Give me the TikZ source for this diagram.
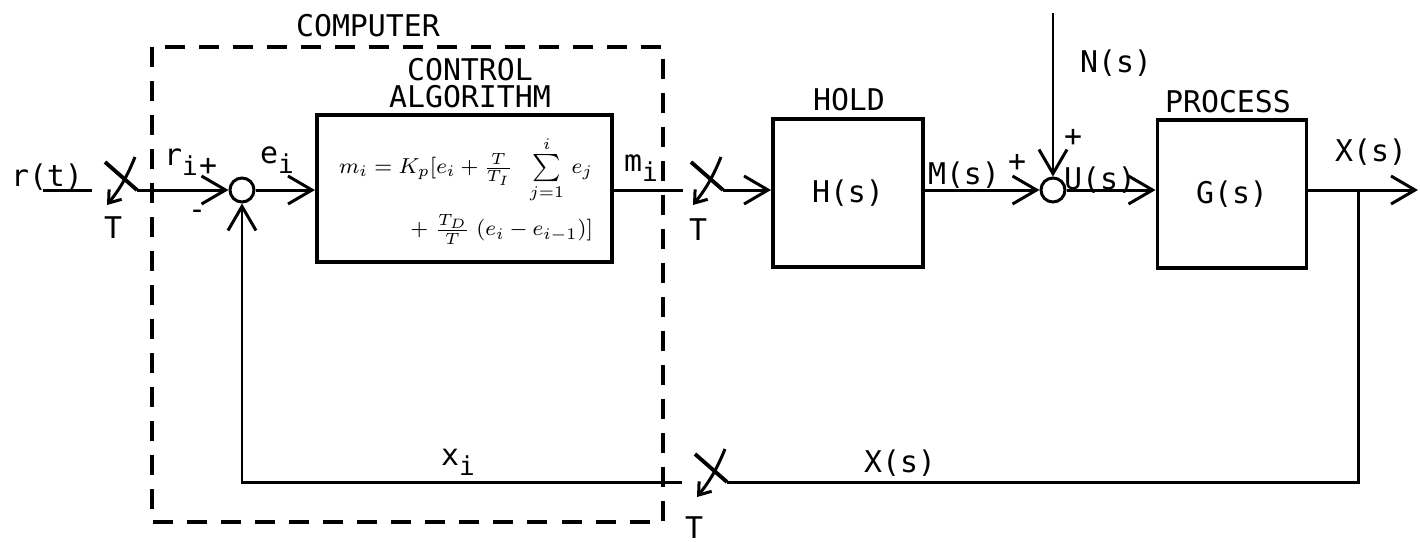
\documentclass[tikz,border=0pt]{standalone}
\usepackage{fontspec}
\usepackage{graphicx}
\setmainfont{DejaVu Sans Mono}
\usetikzlibrary{arrows.meta,calc}
\newcommand{\lowsub}[1]{\raisebox{-0.6ex}{\fontsize{7.4}{8}\selectfont #1}}

\begin{document}
\begin{tikzpicture}[x=0.01cm,y=-0.01cm,line width=0.85pt,
  font=\fontsize{8.5}{10}\selectfont,
  block/.style={draw,line width=1.1pt,minimum width=1.49cm,minimum height=1.48cm,inner sep=0pt},
  sumnode/.style={draw,circle,minimum size=0.24cm,inner sep=0pt},
  sig/.style={-{Straight Barb[length=2.4mm,width=2.8mm]}},
  compbox/.style={line width=1pt,dash pattern=on 0.2cm off 0.14cm}]
  \useasboundingbox (0,0) rectangle (1420,541);
  % forward path
  \node (rt) at (47,177) {r(t)};
  \coordinate (in) at (43,190);
  \coordinate (s1in) at (92,190);
  \coordinate (s1) at (137,190);
  \node[sumnode] (sum1) at (242,190) {};
  \node[block,minimum width=2.95cm,minimum height=1.47cm] (ctrl) at (464.5,188.5) {};
  \node[inner sep=0pt,font=\fontsize{8}{10}\selectfont] (law) at (466,190)
       {\scalebox{0.77}{$\begin{array}{@{}r@{}}
          m_i = K_p[e_i + \frac{T}{T_I}\;\;\sum\limits_{j=1}^{i}\, e_j\\[12pt]
          +\;\frac{T_D}{T}\;(e_i - e_{i-1})]
        \end{array}$}};
  \coordinate (s2in) at (683,190);
  \coordinate (s2) at (723,190);
  \node[block,minimum width=1.5cm] (hold) at (848,193) {H(s)};
  \node[sumnode] (sum2) at (1053,190) {};
  \node[block] (proc) at (1232,194) {G(s)};
  \coordinate (ntop) at (1053,13);
  \coordinate (br) at (1358,190);
  \coordinate (out) at (1418,190);
  % feedback path
  \coordinate (fb) at (1358,482);
  \coordinate (s3) at (727,482);
  \coordinate (s3out) at (682,482);
  \coordinate (fbl) at (242,482);

  \draw (in) -- (s1in);
  \draw[sig] (s1) -- (sum1);
  \draw[sig] (sum1) -- (sum1 -| ctrl.west);
  \draw (ctrl.east |- s2in) -- (s2in);
  \draw[sig] (s2) -- (s2 -| hold.west);
  \draw[sig] (hold.east |- sum2) -- (sum2);
  \draw[sig] (ntop) -- (sum2);
  \draw[sig] (sum2) -- (sum2 -| proc.west);
  \draw[sig] (proc.east |- out) -- (out);
  \draw (br) -- (fb) -- (s3);
  \draw[sig] (s3out) -- (fbl) -- (sum1);

  % samplers
  \foreach \s/\tx/\ty in {s1/-24/38,s2/-25/40,s3/-33/46}{
    \draw[line width=1.1pt] (\s) -- ++(-32,-28);
    \draw[-{Straight Barb[length=1.1mm,width=1.6mm]}] ($(\s)+(-2,-33)$) to[bend left=8] ($(\s)+(-30,15)$);
    \node (T-\s) at ($(\s)+(\tx,\ty)$) {T};
  }

  % computer
  \draw[compbox] (152,47) rectangle (663,522);
  \node (comp) at (368,26) {COMPUTER};
  \node (ctrlA) at (470,70) {CONTROL};
  \node (ctrlB) at (470,97) {ALGORITHM};
  \node (holdl) at (849,100) {HOLD};
  \node (procl) at (1228,102) {PROCESS};

  % signal labels
  \node (ri) at (181,162) {r\lowsub{i}};
  \node (ei) at (277,160) {e\lowsub{i}};
  \node (mi) at (641,168) {m\lowsub{i}};
  \node (xi) at (458,462) {x\lowsub{i}};
  \node (ms) at (964,175) {M(s)};
  \node (us) at (1100,180) {U(s)};
  \node (ns) at (1116,63) {N(s)};
  \node (xs) at (1371,152) {X(s)};
  \node (xsb) at (900,463) {X(s)};
  \node (p1) at (208,167) {+};
  \node (m1) at (197,215) {-};
  \node (p2) at (1017,163) {+};
  \node (p3) at (1073,138) {+};
\end{tikzpicture}
\end{document}
